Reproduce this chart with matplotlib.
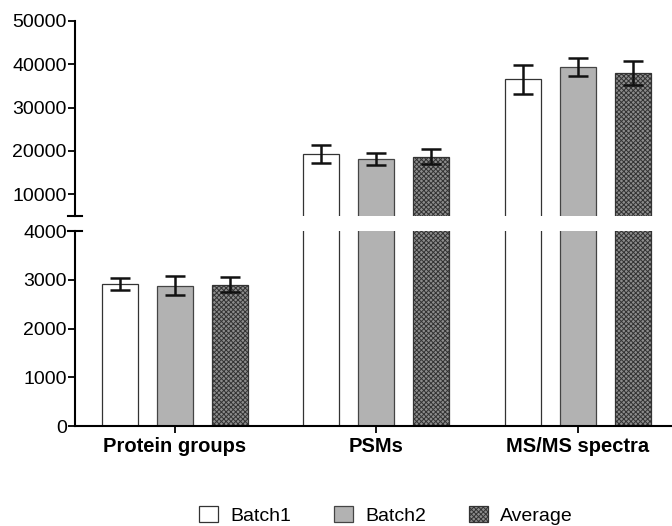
import numpy as np
import matplotlib.pyplot as plt

plt.rcParams['font.family'] = ['Liberation Sans', 'DejaVu Sans']
plt.rcParams['hatch.linewidth'] = 0.7

categories = ["Protein groups", "PSMs", "MS/MS spectra"]
series = ["Batch1", "Batch2", "Average"]
batch1 = [2910, 19300, 36500]
batch1_err = [125, 2100, 3300]
batch2 = [2880, 18100, 39400]
batch2_err = [200, 1400, 2000]
average = [2900, 18700, 38000]
average_err = [150, 1700, 2800]

values = [batch1, batch2, average]
errors = [batch1_err, batch2_err, average_err]
styles = [
    dict(facecolor="white", edgecolor="#333333", hatch=None),
    dict(facecolor="#b2b2b2", edgecolor="#444444", hatch=None),
    dict(facecolor="#8c8c8c", edgecolor="#333333", hatch="xxxxxxx"),
]

fig = plt.figure(figsize=(6.72, 5.26), dpi=100)
ax_top = fig.add_axes([0.1116, 0.5894, 0.8884, 0.3707])
ax_bot = fig.add_axes([0.1116, 0.1901, 0.8884, 0.3707])

x = np.arange(len(categories))
width = 0.179
offset = 0.273

for ax in (ax_top, ax_bot):
    for i, (vals, errs, st) in enumerate(zip(values, errors, styles)):
        pos = x + (i - 1) * offset
        ax.bar(pos, vals, width=width, facecolor=st["facecolor"],
               edgecolor=st["edgecolor"], hatch=st["hatch"], linewidth=0.9,
               label=series[i], zorder=2)
        ax.errorbar(pos, vals, yerr=errs, fmt="none", ecolor="#111111",
                    elinewidth=1.8, capsize=7, capthick=1.8, zorder=3)
    ax.set_xlim(-0.496, 2.467)
    for s in ("top", "right"):
        ax.spines[s].set_visible(False)
    ax.spines["left"].set_linewidth(1.5)
    ax.tick_params(axis="y", direction="out", length=5, width=1.3,
                   labelsize=14, pad=1)

ax_top.set_ylim(5000, 50000)
ax_top.set_yticks([10000, 20000, 30000, 40000, 50000])
ax_top.spines["bottom"].set_visible(False)
ax_top.set_xticks([])

ax_bot.set_ylim(0, 4000)
ax_bot.set_yticks([0, 1000, 2000, 3000, 4000])
ax_bot.spines["bottom"].set_linewidth(1.5)
ax_bot.set_xticks(x)
ax_bot.set_xticklabels(categories, fontweight="bold", fontsize=14.5)
ax_bot.tick_params(axis="x", direction="out", length=5, width=1.3, pad=3)

# break marks at the spine ends
ax_top.plot([-0.012, 0.012], [0, 0], transform=ax_top.transAxes,
            color="black", lw=1.5, clip_on=False)
ax_bot.plot([-0.012, 0.012], [1, 1], transform=ax_bot.transAxes,
            color="black", lw=1.5, clip_on=False)

handles, labels = ax_bot.get_legend_handles_labels()
fig.legend(handles, labels, loc="center", bbox_to_anchor=(0.574, 0.02),
           ncol=3, frameon=False, fontsize=14, handlelength=1.0,
           handleheight=0.85, columnspacing=2.2, handletextpad=0.6)

fig.savefig("out.png", dpi=100)
